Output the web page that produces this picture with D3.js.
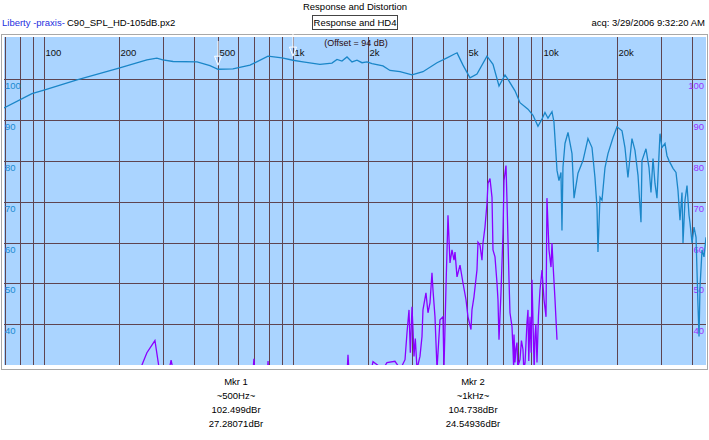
<!DOCTYPE html>
<html>
<head>
<meta charset="utf-8">
<script src="https://cdn.jsdelivr.net/npm/d3@7"></script>
<style>
  body { margin: 0; background: #fff; }
  svg { display: block; font-family: "Liberation Sans", Arial, sans-serif; }
</style>
</head>
<body>
<svg width="709" height="440"></svg>
<script>
// Data =======================================================================

// Frequency response (Hz, dB)
const respFreq = [69.1, 89.5, 100, 135.7, 200, 259, 284, 300, 330, 412, 464, 500, 574, 672, 794, 903,
  1000, 1097, 1283, 1434, 1502, 1573, 1648, 1726, 1807, 1893, 1983, 2077, 2298, 2453, 2690, 3006,
  3327, 3788, 4155, 4474, 4560, 4817, 5139, 5482, 6013, 6357, 6720, 7103, 7303, 7792, 8158, 8786,
  9203, 9636, 10000, 10280, 10570, 10970, 11170, 11490, 11700, 11920, 12030, 12140, 12370, 12720,
  13200, 13450, 13950, 14610, 15300, 15880, 16320, 16630, 16780, 17100, 17420, 17910, 18410, 19280,
  20010, 20960, 21540, 22140, 22980, 23630, 24300, 24980, 25210, 26160, 26900, 27400, 27920, 28430,
  28960, 29780, 30330, 31190, 31770, 32360, 33590, 34530, 35170, 35830, 36500, 36840, 37530, 38230,
  38950, 39310, 40050, 40790, 41560, 42330, 42720, 43120, 43920, 44740, 45570];
const respDb = [93.0, 96.5, 97.4, 99.9, 102.8, 104.8, 105.2, 104.8, 104.4, 104.3, 103.4, 102.5, 102.6, 103.5, 105.7, 105.3,
  104.7, 104.3, 103.7, 104.0, 104.9, 104.5, 105.5, 104.3, 104.7, 104.1, 104.3, 103.9, 103.3, 102.2, 101.9, 101.1,
  101.9, 104.1, 105.3, 106.3, 106.5, 103.5, 100.4, 101.3, 105.7, 103.7, 98.4, 101.1, 100.0, 97.2, 94.3, 92.7,
  91.2, 88.5, 90.3, 91.9, 90.5, 92.1, 89.6, 77.7, 75.2, 77.2, 63.0, 78.4, 84.3, 87.0,
  81.8, 70.9, 77.0, 80.1, 85.5, 83.3, 76.0, 68.7, 57.7, 71.1, 70.4, 78.4, 81.8, 85.7,
  88.4, 87.4, 83.3, 76.0, 85.5, 82.6, 76.5, 65.0, 80.1, 83.0, 78.4, 72.3, 80.6, 74.5,
  70.9, 86.7, 83.3, 84.3, 81.3, 80.1, 78.2, 77.2, 72.8, 65.5, 72.3, 59.9, 70.4, 74.0,
  66.7, 64.8, 59.9, 63.8, 61.3, 44.3, 37.0, 49.1, 58.2, 56.5, 61.3];

// 4th harmonic distortion (Hz, dB)
const hd4Freq = [240, 259, 279, 292, 316, 324, 332, 690, 697, 704, 790, 794, 800, 1650, 1663, 1680,
  2050, 2096, 2300, 2385, 2568, 2700, 2818, 2870, 2924, 2960, 3006, 3034, 3062, 3100, 3148, 3236, 3297,
  3327, 3420, 3485, 3550, 3616, 3650, 3718, 3788, 3894, 4003, 4040, 4116, 4193, 4271, 4351, 4433,
  4474, 4558, 4686, 4817, 4953, 5045, 5186, 5234, 5332, 5482, 5534, 5636, 5741, 5795, 5903, 6013,
  6069, 6183, 6299, 6357, 6476, 6596, 6657, 6720, 6845, 6973, 7038, 7169, 7235, 7371, 7439, 7578,
  7648, 7700, 7720, 7792, 7860, 7937, 8000, 8050, 8158, 8270, 8388, 8450, 8550, 8706, 8786, 8850,
  8950, 9050, 9118, 9203, 9300, 9374, 9450, 9548, 9680, 9817, 10000, 10190, 10380, 10470, 10670,
  10870, 10970, 11070, 11280, 11490];
const hd4Db = [28, 33.0, 36.0, 28, 28, 31.2, 28, 28, 31.5, 28, 28, 31.0, 28, 28, 32.5, 28,
  28, 30.8, 29, 30.6, 30.9, 29, 31.3, 37.9, 43.5, 33.0, 44.3, 38.7, 32.1, 36.5, 29, 32.1, 37.0,
  43.5, 47.7, 42.8, 45.2, 52.6, 48.4, 41.8, 29, 41.1, 41.8, 29, 49.1, 66.7, 55.0, 58.2, 55.7,
  57.7, 51.6, 54.5, 50.1, 46.0, 41.8, 38.7, 43.5, 46.7, 53.3, 60.1, 59.4, 55.7, 59.9, 63.8, 69.6,
  74.5, 75.7, 71.1, 58.2, 56.5, 50.1, 46.0, 36.2, 47.7, 62.3, 75.2, 78.9, 70.4, 50.9, 42.8, 39.4,
  33.8, 29, 37.5, 30.6, 34.0, 35.5, 29, 30.2, 31.3, 36.0, 33.8, 29, 30.5, 40.4, 43.5, 31.0,
  41.8, 33.0, 50.9, 40.4, 29, 37.0, 40.0, 30.6, 42.0, 48.4, 53.3, 46.0, 41.8, 70.9, 58.2,
  54.0, 59.9, 55.0, 46.0, 36.2];

// Grid and tick labels
const gridFreqs = [70, 80, 90, 100, 200, 300, 400, 500, 600, 700, 800, 900,
  1000, 2000, 3000, 4000, 5000, 6000, 7000, 8000, 9000, 10000, 20000, 30000, 40000];
const freqLabelValues = [100, 200, 500, 1000, 2000, 5000, 10000, 20000];
const freqLabels = ["100", "200", "500", "1k", "2k", "5k", "10k", "20k"];
const dbTicks = [40, 50, 60, 70, 80, 90, 100];

// Markers
const markerFreq = [500, 1000];
const markerDb = [102.499, 104.738];
const markerNames = ["Mkr 1", "Mkr 2"];
const markerFreqText = ["~500Hz~", "~1kHz~"];
const markerResp = ["102.499dBr", "104.738dBr"];
const markerHd = ["27.28071dBr", "24.54936dBr"];

// Chart ======================================================================

const plot = { left: 4, right: 706, top: 37, bottom: 365 };
const svg = d3.select("svg");

svg.append("rect").attr("width", 709).attr("height", 440).attr("fill", "#fff");

const x = d3.scaleLog().domain([69.1, 45570]).range([plot.left, plot.right]);
const y = d3.scaleLinear().domain([30, 110.4]).range([plot.bottom, plot.top]);

// outer light frame
svg.append("rect")
  .attr("x", 1.5).attr("y", 34.5)
  .attr("width", 706).attr("height", 335)
  .attr("fill", "none").attr("stroke", "#a8a8a8");

svg.append("rect")
  .attr("x", plot.left).attr("y", plot.top)
  .attr("width", plot.right - plot.left).attr("height", plot.bottom - plot.top)
  .attr("fill", "#aad4ff");

svg.append("clipPath").attr("id", "clip")
  .append("rect")
  .attr("x", plot.left).attr("y", plot.top)
  .attr("width", plot.right - plot.left).attr("height", plot.bottom - plot.top);

// Grid (axes used as grid lines) ============================================

const gridColor = "#5e4450";

const xGrid = svg.append("g")
  .attr("transform", `translate(0,${plot.bottom})`)
  .call(d3.axisBottom(x).tickValues(gridFreqs).tickSize(-(plot.bottom - plot.top)).tickFormat(""));
xGrid.select(".domain").remove();
xGrid.selectAll(".tick")
  .attr("transform", d => `translate(${Math.round(x(d)) + 0.5},0)`);
xGrid.selectAll("line").attr("stroke", gridColor).attr("stroke-width", 1)
  .attr("shape-rendering", "crispEdges");

const yGrid = svg.append("g")
  .attr("transform", `translate(${plot.left},0)`)
  .call(d3.axisLeft(y).tickValues(dbTicks).tickSize(-(plot.right - plot.left)).tickFormat(""));
yGrid.select(".domain").remove();
yGrid.selectAll(".tick")
  .attr("transform", d => `translate(0,${Math.round(y(d)) + 0.5})`);
yGrid.selectAll("line").attr("stroke", gridColor).attr("stroke-width", 1)
  .attr("shape-rendering", "crispEdges");

// Labels =====================================================================

svg.append("g").selectAll("text")
  .data(freqLabelValues)
  .join("text")
  .attr("x", d => Math.round(x(d)) + 1.5)
  .attr("y", 56)
  .attr("font-size", 9.5)
  .attr("fill", "#111")
  .text((d, i) => freqLabels[i]);

svg.append("g").selectAll("text")
  .data(dbTicks)
  .join("text")
  .attr("x", plot.left + 1)
  .attr("y", d => y(d) + 10)
  .attr("font-size", 9.5)
  .attr("fill", "#1a8ad0")
  .text(d => d);

svg.append("g").selectAll("text")
  .data(dbTicks)
  .join("text")
  .attr("x", plot.right - 2)
  .attr("y", d => y(d) + 10)
  .attr("text-anchor", "end")
  .attr("font-size", 9.5)
  .attr("fill", "#9a30ff")
  .text(d => d);

svg.append("text")
  .attr("x", 356).attr("y", 46)
  .attr("text-anchor", "middle")
  .attr("font-size", 9)
  .attr("fill", "#2a0a0a")
  .text("(Offset = 94 dB)");

// Curves =====================================================================

const line = d3.line().x(d => x(d[0])).y(d => y(d[1]));
const clipped = svg.append("g").attr("clip-path", "url(#clip)");

clipped.append("path")
  .datum(hd4Freq.map((f, i) => [f, hd4Db[i]]))
  .attr("d", line)
  .attr("fill", "none")
  .attr("stroke", "#8a00ff")
  .attr("stroke-width", 1.3);

clipped.append("path")
  .datum(respFreq.map((f, i) => [f, respDb[i]]))
  .attr("d", line)
  .attr("fill", "none")
  .attr("stroke", "#1a86c8")
  .attr("stroke-width", 1.3);

// Markers ====================================================================

const markTop = [41, 31];
markerFreq.forEach((f, i) => {
  const mx = x(f), my = y(markerDb[i]) - 4;
  svg.append("line")
    .attr("x1", mx).attr("x2", mx)
    .attr("y1", markTop[i]).attr("y2", my - 9)
    .attr("stroke", "#fff").attr("stroke-width", 1);
  svg.append("path")
    .attr("d", `M${mx - 3.5},${my - 9}L${mx + 3.5},${my - 9}L${mx},${my}Z`)
    .attr("fill", "none").attr("stroke", "#fff").attr("stroke-width", 1);
});

// Header =====================================================================

svg.append("text")
  .attr("x", 355).attr("y", 10)
  .attr("text-anchor", "middle")
  .attr("font-size", 9.5)
  .text("Response and Distortion");

svg.append("text")
  .attr("x", 2).attr("y", 26)
  .attr("font-size", 9.5)
  .attr("fill", "#1f2fe0")
  .text("Liberty -praxis-");

svg.append("text")
  .attr("x", 67).attr("y", 26)
  .attr("font-size", 9.5)
  .text("C90_SPL_HD-105dB.px2");

svg.append("rect")
  .attr("x", 312.5).attr("y", 15.5)
  .attr("width", 85).attr("height", 14)
  .attr("fill", "#fff").attr("stroke", "#444");

svg.append("text")
  .attr("x", 355).attr("y", 26)
  .attr("text-anchor", "middle")
  .attr("font-size", 9.5)
  .text("Response and HD4");

svg.append("text")
  .attr("x", 705).attr("y", 26)
  .attr("text-anchor", "end")
  .attr("font-size", 9.5)
  .text("acq: 3/29/2006 9:32:20 AM");

// Marker readouts ============================================================

const readX = [236, 473];
const readLines = [markerNames, markerFreqText, markerResp, markerHd];
readX.forEach((rx, i) => {
  readLines.forEach((arr, j) => {
    svg.append("text")
      .attr("x", rx).attr("y", 385 + j * 14)
      .attr("text-anchor", "middle")
      .attr("font-size", 9.5)
      .text(arr[i]);
  });
});
</script>
</body>
</html>
